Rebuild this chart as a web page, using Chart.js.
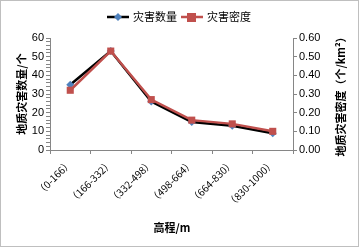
<!DOCTYPE html>
<html>
<head>
<meta charset="utf-8">
<script src="https://cdn.jsdelivr.net/npm/chart.js@4"></script>
<style>
  html, body { margin: 0; padding: 0; background: #fff; }
  #wrap { width: 359px; height: 247px; }
</style>
</head>
<body>
<div id="wrap"><canvas id="chart" width="359" height="247"></canvas></div>
<script>
// data
const categories = ["（0-166）", "（166-332）", "（332-498）", "（498-664）", "（664-830）", "（830-1000）"];
const countValues = [35, 53, 26, 15, 13, 9];
const densityValues = [0.32, 0.53, 0.27, 0.16, 0.14, 0.10];
const seriesNames = ["灾害数量", "灾害密度"];

const cjk = "'Noto Sans CJK SC', sans-serif";
const num = "'Liberation Sans', Arial, sans-serif";
const redColor = "#c0504d";
const blueColor = "#4f81bd";
const axisGray = "#868686";

// titles, legend and frame
const decorPlugin = {
    id: "decor",
    afterDraw(chart) {
        const c = chart.ctx;
        const area = chart.chartArea;
        c.save();
        // outer frame
        c.strokeStyle = "#bfbfbf";
        c.lineWidth = 1;
        c.strokeRect(0.5, 0.5, 358, 246);

        // legend
        c.lineWidth = 2.5;
        c.strokeStyle = "#000";
        c.beginPath(); c.moveTo(107, 17); c.lineTo(129, 17); c.stroke();
        c.fillStyle = blueColor;
        c.beginPath(); c.moveTo(118, 13); c.lineTo(122, 17); c.lineTo(118, 21); c.lineTo(114, 17); c.closePath(); c.fill();
        c.strokeStyle = redColor;
        c.beginPath(); c.moveTo(181, 17); c.lineTo(203, 17); c.stroke();
        c.fillStyle = redColor;
        c.fillRect(187, 13, 9, 9);
        c.fillStyle = "#000";
        c.font = "11px " + cjk;
        c.textBaseline = "middle";
        c.textAlign = "left";
        c.fillText(seriesNames[0], 133, 17);
        c.fillText(seriesNames[1], 207, 17);

        // axis titles
        c.font = "bold 11px " + cjk;
        c.textAlign = "center";
        c.save();
        c.translate(22, (area.top + area.bottom) / 2);
        c.rotate(-Math.PI / 2);
        c.fillText("地质灾害数量/个", 0, 0);
        c.restore();
        c.save();
        c.translate(341, (area.top + area.bottom) / 2);
        c.rotate(-Math.PI / 2);
        c.fillText("地质灾害密度（个/km²）", 0, 0);
        c.restore();
        c.fillText("高程/m", 172, 228);
        c.restore();
    }
};

new Chart(document.getElementById("chart").getContext("2d"), {
    type: "line",
    data: {
        labels: categories,
        datasets: [
            {
                label: seriesNames[1],
                data: densityValues,
                yAxisID: "y2",
                borderColor: redColor,
                backgroundColor: redColor,
                borderWidth: 2.5,
                pointStyle: "rect",
                pointRadius: 5,
                pointBorderWidth: 0,
                tension: 0,
                order: 1
            },
            {
                label: seriesNames[0],
                data: countValues,
                yAxisID: "y",
                borderColor: "#000",
                backgroundColor: blueColor,
                borderWidth: 2.5,
                pointStyle: "rectRot",
                pointRadius: 4,
                pointBorderWidth: 0,
                tension: 0,
                order: 2
            }
        ]
    },
    options: {
        responsive: false,
        animation: false,
        layout: { padding: { left: 0, right: 0, top: 38, bottom: 0 } },
        plugins: {
            legend: { display: false },
            tooltip: { enabled: false }
        },
        scales: {
            x: {
                offset: true,
                afterFit: (s) => { s.height = 97; },
                grid: { offset: true, drawOnChartArea: false, color: axisGray, tickLength: 4 },
                border: { color: axisGray },
                ticks: {
                    color: "#000",
                    font: { family: cjk, size: 10 },
                    minRotation: 45,
                    maxRotation: 45,
                    autoSkip: false,
                    padding: 3
                }
            },
            y: {
                position: "left",
                min: 0,
                max: 60,
                afterFit: (s) => { s.width = 50; },
                grid: { drawOnChartArea: false, color: axisGray, tickLength: 4 },
                border: { color: axisGray },
                ticks: {
                    stepSize: 2,
                    autoSkip: false,
                    color: "#000",
                    font: { family: num, size: 11 },
                    padding: 2,
                    callback: (v) => (v % 10 === 0 ? v : "")
                }
            },
            y2: {
                position: "right",
                min: 0,
                max: 0.6,
                afterFit: (s) => { s.width = 66; },
                grid: { drawOnChartArea: false, color: axisGray, tickLength: 4 },
                border: { color: axisGray },
                ticks: {
                    stepSize: 0.1,
                    color: "#000",
                    font: { family: num, size: 11 },
                    padding: 2,
                    callback: (v) => v.toFixed(2)
                }
            }
        }
    },
    plugins: [decorPlugin]
});
</script>
</body>
</html>
